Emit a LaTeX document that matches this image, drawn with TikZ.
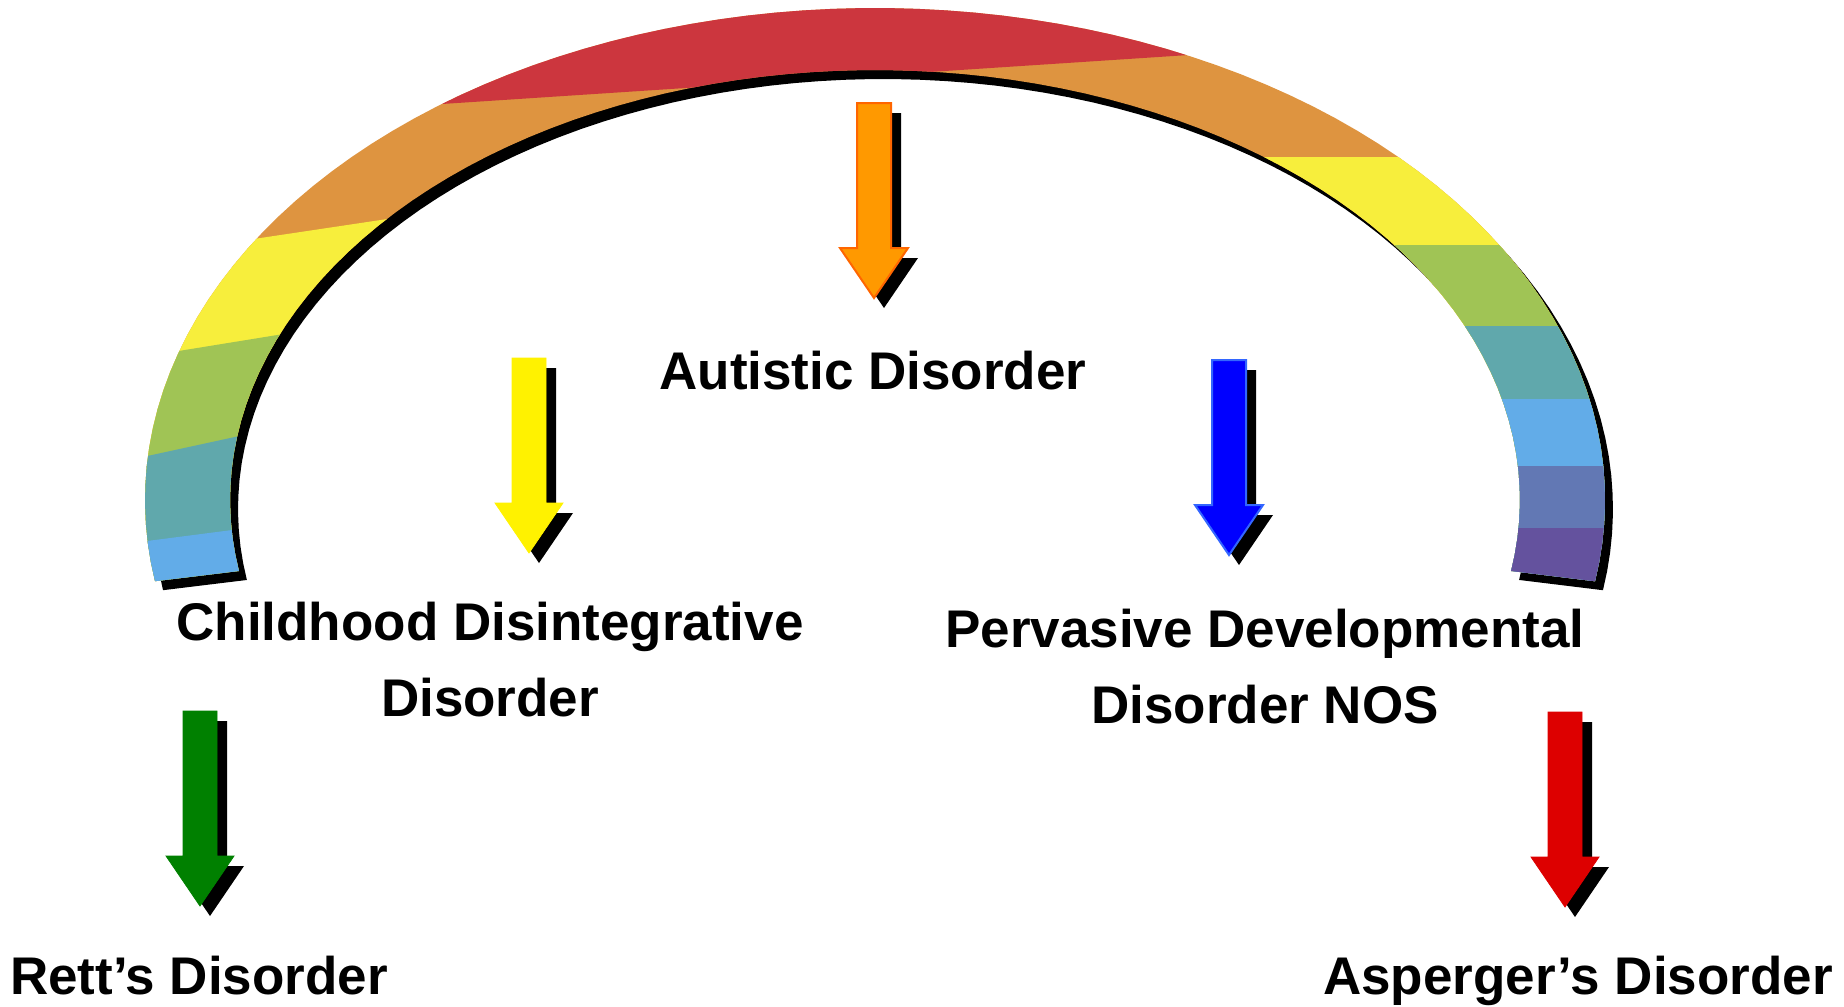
\documentclass[tikz,border=0pt]{standalone}
\usepackage{fontspec}
\setmainfont{Liberation Sans}

\definecolor{rbred}{RGB}{204,54,62}
\definecolor{rborange}{RGB}{222,148,64}
\definecolor{rbyellow}{RGB}{247,238,60}
\definecolor{rbgreen}{RGB}{160,196,85}
\definecolor{rbteal}{RGB}{96,168,172}
\definecolor{rbblue}{RGB}{98,172,232}
\definecolor{rbslate}{RGB}{98,120,180}
\definecolor{rbpurple}{RGB}{100,82,158}
\definecolor{arroworange}{RGB}{255,153,0}
\definecolor{arroworangeedge}{RGB}{255,102,0}
\definecolor{arrowblueedge}{RGB}{51,102,255}
\definecolor{arrowgreen}{RGB}{0,128,0}
\definecolor{arrowred}{RGB}{221,0,0}

\newcommand{\rainbowband}{plot[domain=-9.5:189.5,samples=90] ({875+730*cos(\x)},{-500+492*sin(\x)})
  -- plot[domain=189.5:-9.5,samples=90] ({875+645*cos(\x)},{-500+430*sin(\x)}) -- cycle}
\newcommand{\arrowoutline}{(-17,0) -- (17,0) -- (17,-145) -- (34,-145) -- (0,-195) -- (-34,-145) -- (-17,-145) -- cycle}

\tikzset{
  disorder/.style={font=\fontsize{26.5}{38}\selectfont\bfseries, align=center, inner sep=0pt},
  downarrow/.pic={
    \fill[black,shift={(10,-10)}] \arrowoutline;
    \path[pic actions] \arrowoutline;
  }
}

\begin{document}
\begin{tikzpicture}[x=0.5pt,y=0.5pt]
\useasboundingbox (0,0) rectangle (1844,-1007);
% rainbow arc and its shadow
\fill[black,shift={(8,-9)}] \rainbowband;
\begin{scope}
\clip \rainbowband;
\fill[rborange] (0,0) rectangle (1844,-1007);
\fill[rbred] (0,-133) -- (1844,-12) |- (0,0) -- cycle;
\foreach \col/\ya/\yb in {rbyellow/277/146, rbgreen/380/238, rbteal/488/298, rbblue/560/447}
  \fill[\col] (0,-\ya) -- (875,-\yb) |- (0,-1007) -- cycle;
\foreach \col/\yy in {rbyellow/157, rbgreen/245, rbteal/326, rbblue/399, rbslate/466, rbpurple/528}
  \fill[\col] (875,-\yy) rectangle (1844,-1007);
\end{scope}

% arrows
\pic[fill=arroworange, draw=arroworangeedge, line width=1pt] at (874,-103) {downarrow};
\pic[fill=yellow, draw=yellow] at (529,-358) {downarrow};
\pic[fill=blue, draw=arrowblueedge, line width=1pt] at (1229,-360) {downarrow};
\pic[fill=arrowgreen, draw=arrowgreen] at (200,-711) {downarrow};
\pic[fill=arrowred, draw=arrowred] at (1565,-712) {downarrow};

% labels
\node[disorder] (autistic) at (873,-371) {Autistic Disorder};
\node[disorder] (childhood) at (490,-660) {Childhood Disintegrative\\Disorder};
\node[disorder] (pervasive) at (1265,-667) {Pervasive Developmental\\Disorder NOS};
\node[disorder, anchor=base] (rett) at (199,-994) {Rett’s Disorder};
\node[disorder, anchor=base] (asperger) at (1578,-994) {Asperger’s Disorder};
\end{tikzpicture}
\end{document}
